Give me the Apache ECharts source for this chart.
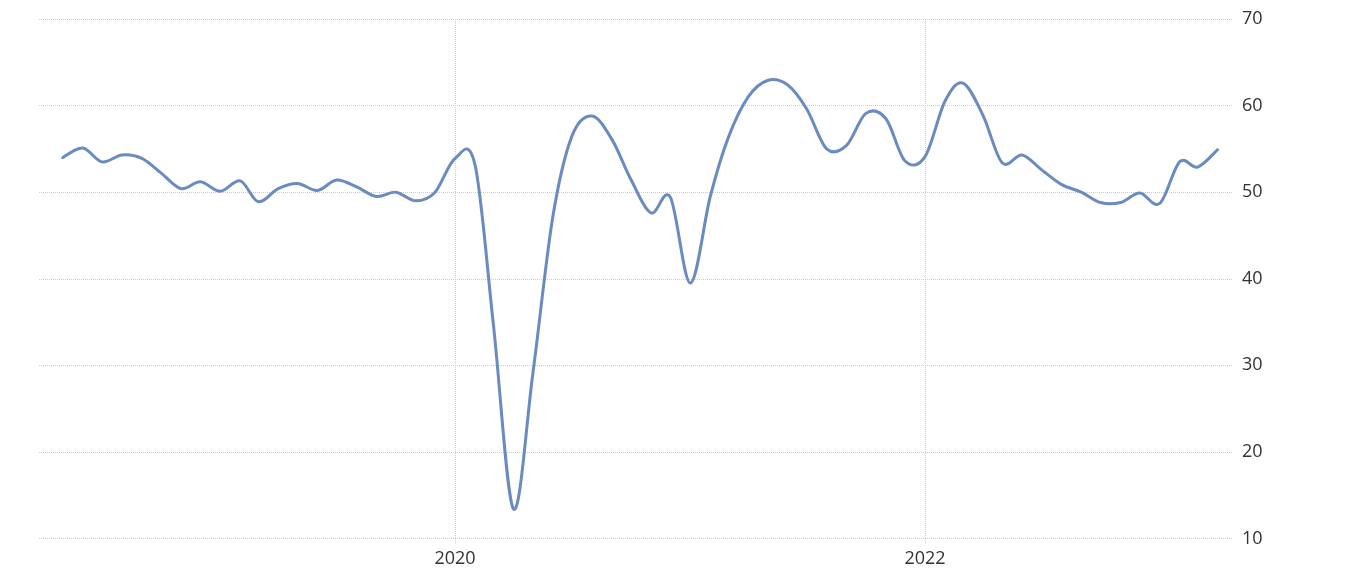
<!DOCTYPE html>
<html>
<head>
<meta charset="utf-8">
<script src="https://cdn.jsdelivr.net/npm/echarts@6/dist/echarts.min.js"></script>
<style>html,body{margin:0;padding:0;background:#fff;}#c{width:1370px;height:580px;}</style>
</head>
<body>
<div id="c"></div>
<script>
// Monthly values, May 2018 – Apr 2023
const months = [
  '2018-05','2018-06','2018-07','2018-08','2018-09','2018-10','2018-11','2018-12',
  '2019-01','2019-02','2019-03','2019-04','2019-05','2019-06','2019-07','2019-08','2019-09','2019-10','2019-11','2019-12',
  '2020-01','2020-02','2020-03','2020-04','2020-05','2020-06','2020-07','2020-08','2020-09','2020-10','2020-11','2020-12',
  '2021-01','2021-02','2021-03','2021-04','2021-05','2021-06','2021-07','2021-08','2021-09','2021-10','2021-11','2021-12',
  '2022-01','2022-02','2022-03','2022-04','2022-05','2022-06','2022-07','2022-08','2022-09','2022-10','2022-11','2022-12',
  '2023-01','2023-02','2023-03','2023-04'
];
const values = [
  54.0, 55.1, 53.5, 54.3, 53.9, 52.2, 50.4, 51.2,
  50.1, 51.3, 48.9, 50.4, 51.0, 50.2, 51.4, 50.6, 49.5, 50.0, 49.0, 50.0,
  53.9, 53.2, 34.5, 13.4, 29.0, 47.1, 56.5, 58.8, 56.1, 51.4, 47.6, 49.4,
  39.5, 49.5, 56.3, 61.0, 62.9, 62.4, 59.6, 55.0, 55.4, 59.1, 58.5, 53.6,
  54.1, 60.5, 62.6, 58.9, 53.4, 54.3, 52.6, 50.9, 50.0, 48.8, 48.8, 49.9,
  48.7, 53.5, 52.9, 54.9
];
const xTickLabels = ['2020', '2022'];
const yTicks = [10, 20, 30, 40, 50, 60, 70];

const ts = s => Date.UTC(+s.slice(0, 4), +s.slice(5, 7) - 1, s.length > 7 ? +s.slice(8, 10) : 1);
const data = months.map((m, i) => [ts(m), values[i]]);
const tickTimes = xTickLabels.map(y => ts(y + '-01'));

// Spline (Catmull-Rom) path through the points, positioned with the axis scales
function renderSpline(params, api) {
  if (params.dataIndex !== 0) return null;
  const p = data.map(d => api.coord(d));
  const n = p.length;
  let d = 'M' + p[0][0].toFixed(2) + ',' + p[0][1].toFixed(2);
  for (let i = 0; i < n - 1; i++) {
    const p0 = p[Math.max(i - 1, 0)], p1 = p[i], p2 = p[i + 1], p3 = p[Math.min(i + 2, n - 1)];
    const c1x = p1[0] + (p2[0] - p0[0]) / 6, c1y = p1[1] + (p2[1] - p0[1]) / 6;
    const c2x = p2[0] - (p3[0] - p1[0]) / 6, c2y = p2[1] - (p3[1] - p1[1]) / 6;
    d += ' C' + c1x.toFixed(2) + ',' + c1y.toFixed(2) + ' ' + c2x.toFixed(2) + ',' + c2y.toFixed(2) + ' ' + p2[0].toFixed(2) + ',' + p2[1].toFixed(2);
  }
  return {
    type: 'path',
    shape: {pathData: d},
    style: {fill: 'none', stroke: '#6a8bbf', lineWidth: 3, lineJoin: 'round', lineCap: 'round'},
    silent: true
  };
}

const chart = echarts.init(document.getElementById('c'), null, {renderer: 'canvas'});
chart.setOption({
  animation: false,
  backgroundColor: '#ffffff',
  grid: {left: 39, right: 137, top: 19, bottom: 41.5, containLabel: false},
  xAxis: {
    type: 'value',
    min: ts('2018-03-25'),
    max: ts('2023-04-25'),
    axisLine: {show: false},
    axisTick: {show: true, customValues: tickTimes, length: 6, lineStyle: {color: '#cccccc', type: 'dotted'}},
    axisLabel: {
      customValues: tickTimes,
      formatter: v => String(new Date(v).getUTCFullYear()),
      color: '#333333', fontSize: 18, fontFamily: 'Open Sans', margin: 11
    },
    splitLine: {show: true, lineStyle: {color: '#cccccc', type: 'dotted', width: 1}}
  },
  yAxis: {
    type: 'value',
    position: 'right',
    min: yTicks[0], max: yTicks[yTicks.length - 1], interval: 10,
    axisLine: {show: false},
    axisTick: {show: false},
    axisLabel: {color: '#333333', fontSize: 18, fontFamily: 'Open Sans', margin: 9},
    splitLine: {show: true, lineStyle: {color: '#cccccc', type: 'dotted', width: 1}}
  },
  series: [{
    type: 'custom',
    coordinateSystem: 'cartesian2d',
    data: data,
    encode: {x: 0, y: 1},
    clip: false,
    renderItem: renderSpline
  }]
});
</script>
</body>
</html>
